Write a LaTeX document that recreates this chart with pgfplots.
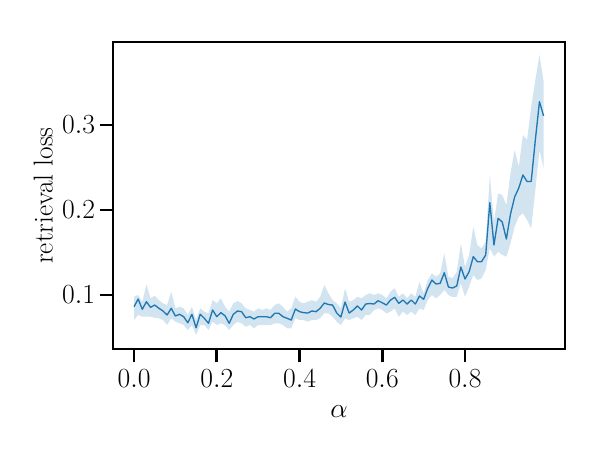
\documentclass[border=0pt]{standalone}
\usepackage{pgfplots}
\pgfplotsset{compat=1.18}
\usepgfplotslibrary{fillbetween}
\usepackage{pgfplotstable}

\definecolor{tabblue}{HTML}{1F77B4}

% alpha, mean loss, lower and upper edge of the band
\pgfplotstableread{
x mean lower upper
0.00 0.0862 0.0706 0.0980
0.01 0.0953 0.0765 0.1000
0.02 0.0832 0.0745 0.0918
0.03 0.0921 0.0745 0.1126
0.04 0.0855 0.0745 0.0961
0.05 0.0882 0.0733 0.0992
0.06 0.0844 0.0726 0.0941
0.07 0.0812 0.0706 0.0902
0.08 0.0765 0.0647 0.0882
0.09 0.0844 0.0726 0.1039
0.10 0.0753 0.0686 0.0844
0.11 0.0773 0.0667 0.0862
0.12 0.0745 0.0647 0.0844
0.13 0.0674 0.0588 0.0765
0.14 0.0773 0.0647 0.0862
0.15 0.0615 0.0529 0.0706
0.16 0.0773 0.0647 0.0844
0.17 0.0726 0.0647 0.0804
0.18 0.0667 0.0588 0.0785
0.19 0.0824 0.0686 0.0941
0.20 0.0745 0.0647 0.0902
0.21 0.0792 0.0667 0.0961
0.22 0.0756 0.0647 0.0862
0.23 0.0667 0.0588 0.0804
0.24 0.0773 0.0647 0.0902
0.25 0.0812 0.0686 0.0929
0.26 0.0804 0.0667 0.0902
0.27 0.0733 0.0627 0.0844
0.28 0.0745 0.0647 0.0824
0.29 0.0718 0.0608 0.0804
0.30 0.0745 0.0647 0.0844
0.31 0.0745 0.0647 0.0824
0.32 0.0745 0.0647 0.0844
0.33 0.0733 0.0647 0.0824
0.34 0.0785 0.0667 0.0882
0.35 0.0785 0.0667 0.0902
0.36 0.0745 0.0647 0.0862
0.37 0.0726 0.0608 0.0804
0.38 0.0706 0.0608 0.0844
0.39 0.0835 0.0726 0.0980
0.40 0.0804 0.0706 0.0921
0.41 0.0792 0.0706 0.0902
0.42 0.0788 0.0686 0.0921
0.43 0.0812 0.0706 0.0941
0.44 0.0804 0.0706 0.0921
0.45 0.0844 0.0726 0.0980
0.46 0.0906 0.0785 0.1118
0.47 0.0888 0.0785 0.1020
0.48 0.0882 0.0745 0.0941
0.49 0.0788 0.0686 0.0902
0.50 0.0741 0.0647 0.0844
0.51 0.0918 0.0726 0.1079
0.52 0.0788 0.0706 0.0921
0.53 0.0824 0.0726 0.0941
0.54 0.0871 0.0745 0.0980
0.55 0.0824 0.0706 0.0961
0.56 0.0894 0.0765 0.1000
0.57 0.0900 0.0765 0.1020
0.58 0.0894 0.0824 0.1000
0.59 0.0933 0.0842 0.1020
0.60 0.0909 0.0824 0.1000
0.61 0.0882 0.0784 0.0961
0.62 0.0941 0.0804 0.1039
0.63 0.0973 0.0842 0.1079
0.64 0.0902 0.0745 0.0980
0.65 0.0941 0.0804 0.1020
0.66 0.0894 0.0765 0.0961
0.67 0.0941 0.0804 0.1020
0.68 0.0894 0.0765 0.0980
0.69 0.0988 0.0842 0.1156
0.70 0.0949 0.0824 0.1020
0.71 0.1079 0.0941 0.1176
0.72 0.1176 0.1000 0.1255
0.73 0.1129 0.0961 0.1215
0.74 0.1138 0.1000 0.1255
0.75 0.1262 0.1059 0.1491
0.76 0.1094 0.1000 0.1212
0.77 0.1082 0.0976 0.1200
0.78 0.1106 0.0980 0.1271
0.79 0.1329 0.1138 0.1608
0.80 0.1188 0.0980 0.1333
0.81 0.1274 0.1098 0.1471
0.82 0.1451 0.1235 0.1804
0.83 0.1392 0.1176 0.1588
0.84 0.1392 0.1196 0.1549
0.85 0.1471 0.1294 0.1627
0.86 0.2086 0.1549 0.2412
0.87 0.1588 0.1451 0.1862
0.88 0.1902 0.1509 0.2196
0.89 0.1859 0.1471 0.2176
0.90 0.1659 0.1451 0.2059
0.91 0.1953 0.1608 0.2435
0.92 0.2153 0.1804 0.2706
0.93 0.2259 0.1921 0.2509
0.94 0.2412 0.1961 0.2882
0.95 0.2335 0.1882 0.2824
0.96 0.2335 0.1785 0.3215
0.97 0.2824 0.2235 0.3529
0.98 0.3274 0.2706 0.3824
0.99 0.3106 0.2491 0.3509
}\losstable

\begin{document}
\begin{tikzpicture}
\begin{axis}[
  at={(0,0)}, anchor=south west,
  width=339pt, height=230.25pt, scale only axis,
  xmin=-0.0508, xmax=1.0417,
  ymin=0.0365, ymax=0.3976,
  xtick={0,0.2,0.4,0.6,0.8},
  ytick={0.1,0.2,0.3},
  tick align=outside,
  major tick length=10pt,
  every tick/.style={black, line width=1.9pt},
  xtick pos=bottom, ytick pos=left,
  xticklabel style={yshift=-2pt, /pgf/number format/fixed, /pgf/number format/fixed zerofill, /pgf/number format/precision=1},
  yticklabel style={/pgf/number format/fixed, /pgf/number format/fixed zerofill, /pgf/number format/precision=1},
  tick label style={font=\fontsize{20}{24}\selectfont},
  label style={font=\fontsize{20.5}{24}\selectfont},
  xlabel style={yshift=-7pt},
  xlabel={$\alpha$},
  ylabel={retrieval loss},
  clip=false,
]
\addplot[name path=U, draw=none, forget plot] table[x=x, y=upper] {\losstable};
\addplot[name path=L, draw=none, forget plot] table[x=x, y=lower] {\losstable};
\addplot[tabblue, fill opacity=0.2, draw=none] fill between[of=U and L];
\addplot[tabblue, line width=1pt, line join=round] table[x=x, y=mean] {\losstable};
\draw[black, line width=2pt] (rel axis cs:0,0) rectangle (rel axis cs:1,1);
\end{axis}
\useasboundingbox (-84.75pt,-80.25pt) rectangle (370.5pt,261.75pt);
\end{tikzpicture}
\end{document}
